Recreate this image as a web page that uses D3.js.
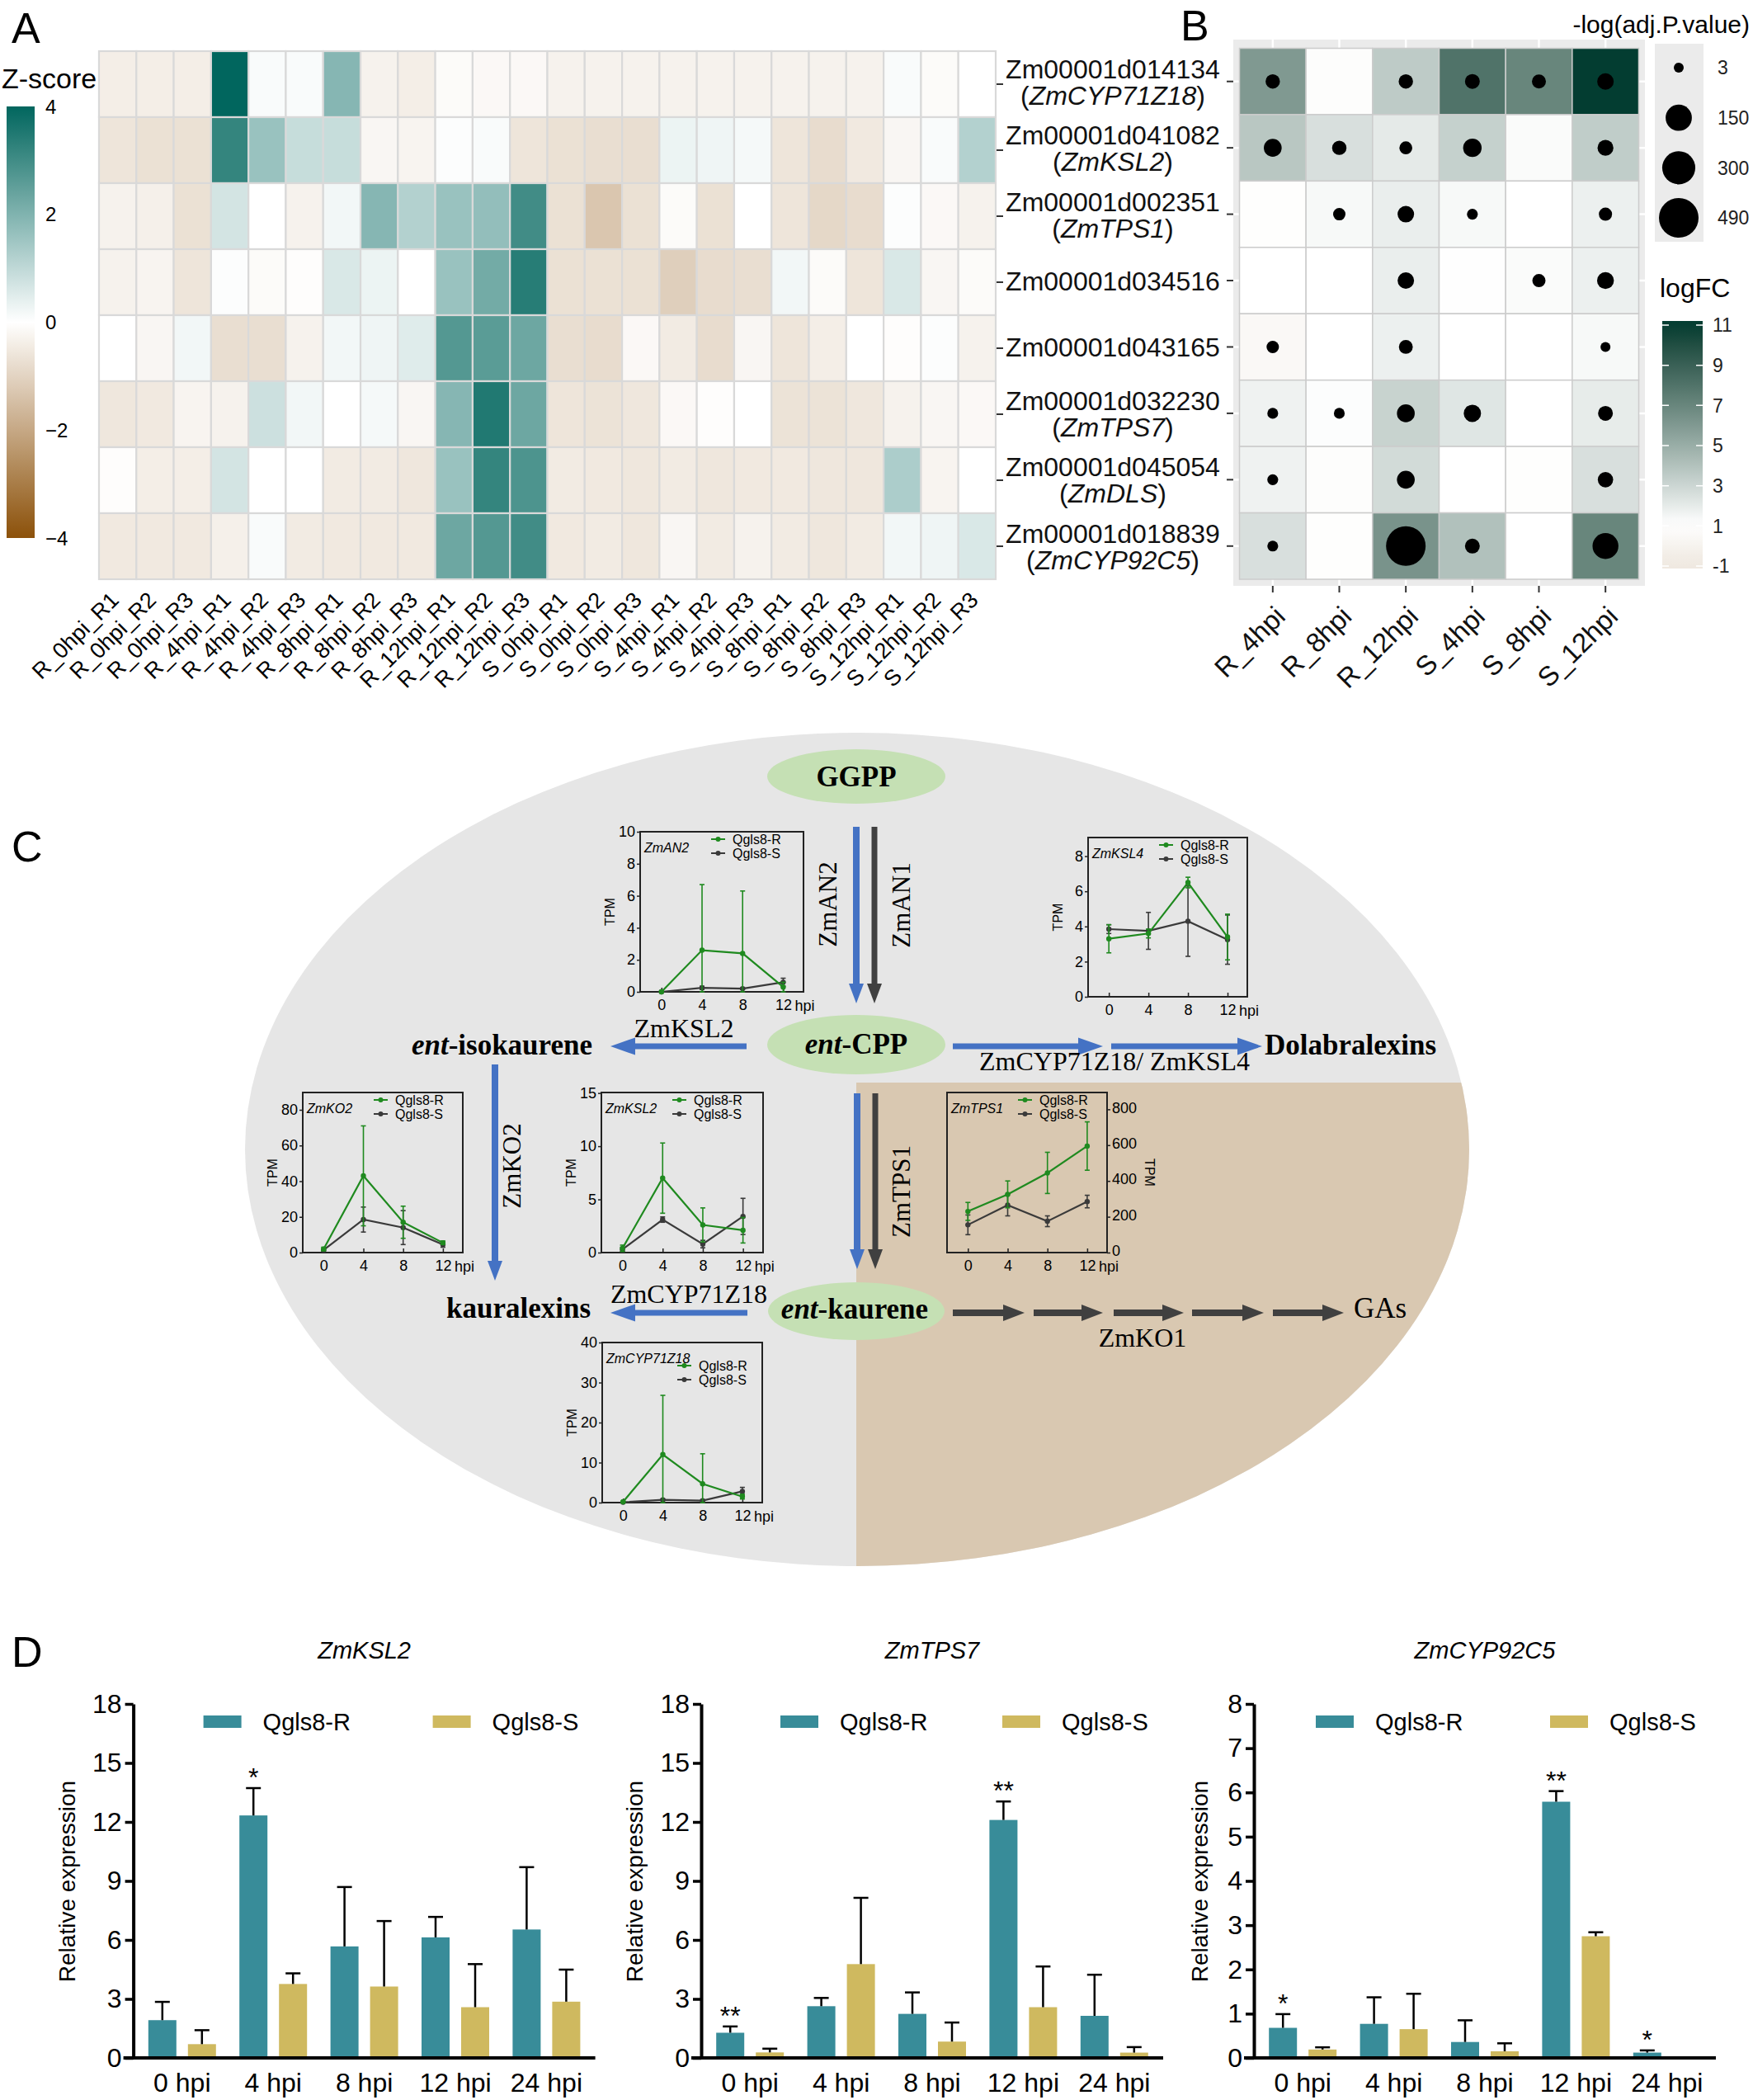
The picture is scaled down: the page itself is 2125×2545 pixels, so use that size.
<!DOCTYPE html>
<html>
<head>
<meta charset="utf-8">
<title>Diterpenoid pathway genes</title>
<script src="https://cdn.jsdelivr.net/npm/d3@7"></script>
<style>
body { margin: 0; background: #fff; }
</style>
</head>
<body>
<script>
// ---------- data ----------

// A: z-score heatmap
const heatSamples = ["R_0hpi_R1","R_0hpi_R2","R_0hpi_R3","R_4hpi_R1","R_4hpi_R2","R_4hpi_R3",
  "R_8hpi_R1","R_8hpi_R2","R_8hpi_R3","R_12hpi_R1","R_12hpi_R2","R_12hpi_R3",
  "S_0hpi_R1","S_0hpi_R2","S_0hpi_R3","S_4hpi_R1","S_4hpi_R2","S_4hpi_R3",
  "S_8hpi_R1","S_8hpi_R2","S_8hpi_R3","S_12hpi_R1","S_12hpi_R2","S_12hpi_R3"];
const geneIds = ["Zm00001d014134","Zm00001d041082","Zm00001d002351","Zm00001d034516",
  "Zm00001d043165","Zm00001d032230","Zm00001d045054","Zm00001d018839"];
const geneNames = ["ZmCYP71Z18","ZmKSL2","ZmTPS1","","","ZmTPS7","ZmDLS","ZmCYP92C5"];
const zScores = [
  [-0.4,-0.4,-0.4, 4.0,0.1,0.1, 1.9,-0.3,-0.4, -0.1,-0.15,-0.15, -0.3,-0.3,-0.3, -0.3,-0.3,-0.3, -0.3,-0.3,-0.3, 0.1,-0.1,0],
  [-0.6,-0.7,-0.7, 3.2,1.6,0.9, 0.9,-0.2,-0.25, 0.05,0.1,-0.6, -0.7,-0.75,-0.75, 0.3,0.25,0.15, -0.6,-0.8,-0.5, -0.2,0.1,1.2],
  [-0.3,-0.35,-0.7, 0.7,0,-0.3, 0.2,1.9,1.2, 1.6,1.7,3.0, -0.7,-1.3,-0.7, -0.1,-0.7,0, -0.6,-0.9,-0.8, 0.05,-0.15,-0.3],
  [-0.3,-0.25,-0.6, 0.05,-0.1,-0.05, 0.6,0.3,0, 1.6,2.2,3.4, -0.7,-0.7,-0.7, -1.1,-0.8,-0.75, 0.2,-0.1,-0.6, 0.6,-0.2,-0.1],
  [0,-0.2,0.2, -0.75,-0.75,-0.3, 0.2,0.25,0.5, 2.7,2.6,2.3, -0.75,-0.8,-0.15, -0.45,-0.8,-0.2, -0.6,-0.4,0, -0.05,0.05,-0.3],
  [-0.55,-0.5,-0.25, -0.3,0.8,0.2, 0,0.15,-0.2, 1.9,3.5,2.3, -0.6,-0.65,-0.55, -0.15,-0.05,0, -0.65,-0.65,-0.55, -0.3,-0.2,-0.15],
  [-0.05,-0.4,-0.4, 0.7,0,0, -0.45,-0.45,-0.55, 1.6,3.2,2.8, -0.45,-0.5,-0.55, -0.45,-0.55,-0.5, -0.5,-0.55,-0.55, 1.3,-0.25,0],
  [-0.5,-0.5,-0.5, -0.35,0.1,-0.45, -0.5,-0.5,-0.5, 2.3,2.7,3.0, -0.5,-0.45,-0.55, -0.2,-0.45,-0.3, -0.45,-0.55,-0.45, 0.2,0.25,0.6]
];
const zTicks = [4, 2, 0, -2, -4];

// B: logFC tiles + -log(adj.P) dots (null = no dot)
const dotTimes = ["R_4hpi","R_8hpi","R_12hpi","S_4hpi","S_8hpi","S_12hpi"];
const logFC = [
  [6, 0.8, 3.5, 8, 7, 11],
  [3.7, 2.5, 2, 3.2, 1.2, 3.4],
  [0.9, 1.3, 1.8, 1.3, 1, 1.7],
  [1, 1, 1.8, 1.05, 1.2, 1.7],
  [0.4, 1, 1.7, 1, 1, 1.3],
  [1.6, 1.1, 3.1, 2.2, 1, 1.9],
  [1.6, 0.8, 2.7, 1, 0.9, 2.5],
  [2.5, 0.9, 6.3, 4, 1, 7]
];
const negLogP = [
  [14, null, 14, 16.5, 12.4, 27],
  [37.6, 14, 7.9, 43.6, null, 22.5],
  [null, 6.4, 27, 3.5, null, 9],
  [null, null, 27, null, 9, 29.5],
  [6.4, null, 11.7, null, null, 3],
  [3.5, 3.5, 37.6, 33.4, null, 16.5],
  [3.5, null, 37.6, null, null, 19.4],
  [3.5, null, 490, 16.5, null, 144]
];
const sizeBreaks = [3, 150, 300, 490];
const fcTicks = [11, 9, 7, 5, 3, 1, -1];

// C: TPM insets
const tpmTimes = [0, 4, 8, 12];
const tpmGenes = ["ZmAN2","ZmKSL4","ZmKO2","ZmKSL2","ZmTPS1","ZmCYP71Z18"];
const tpmR   = [[0,2.6,2.4,0.3],[3.3,3.6,6.5,3.4],[2,43,17,5.5],[0.4,7,2.6,2.1],[230,325,445,595],[0.2,12,4.7,1.5]];
const tpmRsd = [[0.05,4.1,3.9,0.3],[0.8,0.25,0.3,1.3],[1,28,9,1],[0.3,3.3,1.6,1.2],[50,75,115,135],[0.1,14.8,7.5,0.6]];
const tpmS   = [[0,0.25,0.2,0.6],[3.85,3.75,4.3,3.25],[1.5,18.5,14,4.5],[0.3,3.1,0.8,3.4],[155,265,175,285],[0.1,0.7,0.5,2.8]];
const tpmSsd = [[0.02,0.1,0.05,0.25],[0.25,1.05,2.0,1.4],[0.5,7,9.5,1.5],[0.2,0.25,0.35,1.7],[55,60,30,35],[0.05,0.2,0.2,1]];
const tpmYmax  = [10, 9.06, 89.7, 15.05, 894, 40];
const tpmTicks = [[0,2,4,6,8,10],[0,2,4,6,8],[0,20,40,60,80],[0,5,10,15],[0,200,400,600,800],[0,10,20,30,40]];

// D: qPCR bars
const qTimes = ["0 hpi","4 hpi","8 hpi","12 hpi","24 hpi"];
const kslR = [1.92, 12.33, 5.67, 6.13, 6.53],  kslRsd = [0.93, 1.39, 3.02, 1.04, 3.17];
const kslS = [0.7, 3.76, 3.63, 2.58, 2.86],    kslSsd = [0.71, 0.54, 3.33, 2.19, 1.63];
const kslSig = ["", "*", "", "", ""];
const tps7R = [1.28, 2.63, 2.24, 12.1, 2.14],  tps7Rsd = [0.32, 0.42, 1.09, 0.94, 2.09];
const tps7S = [0.28, 4.77, 0.83, 2.58, 0.27],  tps7Ssd = [0.19, 3.37, 0.97, 2.07, 0.28];
const tps7Sig = ["**", "", "", "**", ""];
const cypR = [0.68, 0.77, 0.36, 5.79, 0.12],   cypRsd = [0.31, 0.6, 0.49, 0.24, 0.05];
const cypS = [0.19, 0.65, 0.15, 2.75, 0.03],   cypSsd = [0.05, 0.8, 0.18, 0.09, 0];
const cypSig = ["*", "", "", "**", "*"];

// ---------- drawing ----------
const sans = "'Liberation Sans', Arial, Helvetica, sans-serif";
const serif = "'Liberation Serif', 'Times New Roman', serif";

const svg = d3.select("body").append("svg")
    .attr("width", 2125).attr("height", 2545)
    .attr("font-family", sans);
svg.append("rect").attr("width", 2125).attr("height", 2545).attr("fill", "#fff");
const defs = svg.append("defs");

// panel letters
[["A", 14, 52], ["B", 1431, 49], ["C", 14, 1044], ["D", 14, 2020]].forEach(function(p) {
  svg.append("text").attr("x", p[1]).attr("y", p[2]).attr("font-size", 52).text(p[0]);
});

// ===== A =====
const heatX = d3.scaleBand().domain(heatSamples).range([120, 1207]);
const heatY = d3.scaleBand().domain(geneIds).range([62, 702]);
const zColor = d3.scaleLinear().domain([-4, 0, 4]).range(["#8c510a", "#ffffff", "#01665e"]).clamp(true);

const heatCells = [];
zScores.forEach(function(row, i) {
  row.forEach(function(v, j) { heatCells.push({ gene: geneIds[i], sample: heatSamples[j], v: v }); });
});
svg.append("g").selectAll("rect")
  .data(heatCells)
  .enter().append("rect")
    .attr("x", d => heatX(d.sample))
    .attr("y", d => heatY(d.gene))
    .attr("width", heatX.bandwidth())
    .attr("height", heatY.bandwidth())
    .attr("fill", d => zColor(d.v))
    .attr("stroke", "#d9d9d9")
    .attr("stroke-width", 2.2);

// column labels, rotated
svg.append("g").selectAll("text")
  .data(heatSamples)
  .enter().append("text")
    .attr("transform", d => "translate(" + (heatX(d) + heatX.bandwidth() / 2 + 3) + ",729) rotate(-45)")
    .attr("text-anchor", "end")
    .attr("font-size", 27)
    .text(d => d);

// z-score legend
const zGrad = defs.append("linearGradient").attr("id", "zgrad").attr("x1", 0).attr("y1", 0).attr("x2", 0).attr("y2", 1);
d3.range(0, 1.0001, 0.05).forEach(function(t) {
  zGrad.append("stop").attr("offset", t).attr("stop-color", zColor(4 - 8 * t));
});
const zLeg = d3.scaleLinear().domain([4, -4]).range([129, 652]);
svg.append("text").attr("x", 2).attr("y", 107).attr("font-size", 34).text("Z-score");
svg.append("rect").attr("x", 8).attr("y", zLeg(4)).attr("width", 34).attr("height", zLeg(-4) - zLeg(4))
  .attr("fill", "url(#zgrad)");
svg.append("g").selectAll("text")
  .data(zTicks)
  .enter().append("text")
    .attr("x", 55)
    .attr("y", d => zLeg(d))
    .attr("dy", "0.36em")
    .attr("font-size", 24)
    .text(d => d < 0 ? "\u2212" + Math.abs(d) : d);

// gene labels between A and B
const dotY = d3.scaleBand().domain(geneIds).range([58.5, 702]);
const labelG = svg.append("g").attr("font-size", 32).attr("fill", "#111");
geneIds.forEach(function(id, i) {
  const cy = dotY(id) + dotY.bandwidth() / 2;
  if (geneNames[i]) {
    labelG.append("text").attr("x", 1349).attr("y", cy - 4).attr("text-anchor", "middle").text(id);
    const t2 = labelG.append("text").attr("x", 1349).attr("y", cy + 28).attr("text-anchor", "middle");
    t2.append("tspan").text("(");
    t2.append("tspan").attr("font-style", "italic").text(geneNames[i]);
    t2.append("tspan").text(")");
  } else {
    labelG.append("text").attr("x", 1349).attr("y", cy + 12).attr("text-anchor", "middle").text(id);
  }
});
// small ticks: heatmap rows (left) and dot plot rows (right)
svg.append("g").selectAll("line")
  .data(geneIds)
  .enter().append("line")
    .attr("x1", 1208).attr("x2", 1216)
    .attr("y1", d => heatY(d) + heatY.bandwidth() / 2)
    .attr("y2", d => heatY(d) + heatY.bandwidth() / 2)
    .attr("stroke", "#333").attr("stroke-width", 2);

// ===== B =====
const dotX = d3.scaleBand().domain(dotTimes).range([1502.5, 1986.5]);
const fcColor = d3.scaleLinear().domain([-1, 1, 11]).range(["#efe8e0", "#ffffff", "#033d31"])
    .interpolate(d3.interpolateLab).clamp(true);
const rScale = d3.scaleLinear().domain([0, 1]).range([6, 24]);
const dotR = v => rScale(Math.sqrt((v - 3) / (490 - 3)));

svg.append("rect").attr("x", 1495).attr("y", 48).attr("width", 499).attr("height", 662).attr("fill", "#ebebeb");
svg.append("g").selectAll("line.vg")
  .data(dotTimes)
  .enter().append("line")
    .attr("x1", d => dotX(d) + dotX.bandwidth() / 2).attr("x2", d => dotX(d) + dotX.bandwidth() / 2)
    .attr("y1", 48).attr("y2", 710)
    .attr("stroke", "#fff").attr("stroke-width", 2.5);
svg.append("g").selectAll("line.hg")
  .data(geneIds)
  .enter().append("line")
    .attr("y1", d => dotY(d) + dotY.bandwidth() / 2).attr("y2", d => dotY(d) + dotY.bandwidth() / 2)
    .attr("x1", 1495).attr("x2", 1994)
    .attr("stroke", "#fff").attr("stroke-width", 2.5);

const dotCells = [];
logFC.forEach(function(row, i) {
  row.forEach(function(v, j) {
    dotCells.push({ gene: geneIds[i], time: dotTimes[j], fc: v, p: negLogP[i][j] });
  });
});
svg.append("g").selectAll("rect")
  .data(dotCells)
  .enter().append("rect")
    .attr("x", d => dotX(d.time))
    .attr("y", d => dotY(d.gene))
    .attr("width", dotX.bandwidth())
    .attr("height", dotY.bandwidth())
    .attr("fill", d => fcColor(d.fc))
    .attr("stroke", "#cccccc")
    .attr("stroke-width", 1.5);
svg.append("g").selectAll("circle")
  .data(dotCells.filter(d => d.p !== null))
  .enter().append("circle")
    .attr("cx", d => dotX(d.time) + dotX.bandwidth() / 2)
    .attr("cy", d => dotY(d.gene) + dotY.bandwidth() / 2)
    .attr("r", d => dotR(d.p))
    .attr("fill", "#000");

// B axes ticks
svg.append("g").selectAll("line")
  .data(geneIds)
  .enter().append("line")
    .attr("x1", 1487).attr("x2", 1495)
    .attr("y1", d => dotY(d) + dotY.bandwidth() / 2)
    .attr("y2", d => dotY(d) + dotY.bandwidth() / 2)
    .attr("stroke", "#333").attr("stroke-width", 2);
svg.append("g").selectAll("line")
  .data(dotTimes)
  .enter().append("line")
    .attr("x1", d => dotX(d) + dotX.bandwidth() / 2).attr("x2", d => dotX(d) + dotX.bandwidth() / 2)
    .attr("y1", 710).attr("y2", 718)
    .attr("stroke", "#333").attr("stroke-width", 2);
svg.append("g").selectAll("text")
  .data(dotTimes)
  .enter().append("text")
    .attr("transform", d => "translate(" + (dotX(d) + dotX.bandwidth() / 2 + 17) + ",749) rotate(-45)")
    .attr("text-anchor", "end")
    .attr("font-size", 33)
    .attr("fill", "#111")
    .text(d => d);

// size legend
svg.append("text").attr("x", 2121).attr("y", 40).attr("text-anchor", "end").attr("font-size", 30).text("-log(adj.P.value)");
svg.append("rect").attr("x", 2006).attr("y", 53).attr("width", 59).attr("height", 240).attr("fill", "#ebebeb");
const sizeY = d3.scalePoint().domain(sizeBreaks).range([82, 264]);
svg.append("g").selectAll("circle")
  .data(sizeBreaks)
  .enter().append("circle")
    .attr("cx", 2035).attr("cy", d => sizeY(d)).attr("r", d => dotR(d)).attr("fill", "#000");
svg.append("g").selectAll("text")
  .data(sizeBreaks)
  .enter().append("text")
    .attr("x", 2082).attr("y", d => sizeY(d)).attr("dy", "0.36em")
    .attr("font-size", 23).attr("fill", "#222")
    .text(d => d);

// logFC colour bar
svg.append("text").attr("x", 2012).attr("y", 360).attr("font-size", 32).text("logFC");
const fcGrad = defs.append("linearGradient").attr("id", "fcgrad").attr("x1", 0).attr("y1", 0).attr("x2", 0).attr("y2", 1);
d3.range(0, 1.0001, 0.05).forEach(function(t) {
  fcGrad.append("stop").attr("offset", t).attr("stop-color", fcColor(11.2 - 12.4 * t));
});
const fcLeg = d3.scaleLinear().domain([11, -1]).range([394, 686]);
svg.append("rect").attr("x", 2015).attr("y", 389).attr("width", 49).attr("height", 300).attr("fill", "url(#fcgrad)");
svg.append("g").selectAll("path")
  .data(fcTicks)
  .enter().append("path")
    .attr("d", d => "M2015," + fcLeg(d) + "h8M2064," + fcLeg(d) + "h-8")
    .attr("stroke", "#fff").attr("stroke-width", 1.5);
svg.append("g").selectAll("text")
  .data(fcTicks)
  .enter().append("text")
    .attr("x", 2076).attr("y", d => fcLeg(d)).attr("dy", "0.36em")
    .attr("font-size", 23).attr("fill", "#222")
    .text(d => d);

// ===== C: pathway =====
const cGray = "#e6e6e6", cTan = "#d9c8b1", nodeGreen = "#c5e0b4";
const blue = "#4472c4", darkArrow = "#404040";
svg.append("ellipse").attr("cx", 1039).attr("cy", 1393).attr("rx", 742).attr("ry", 505).attr("fill", cGray);
defs.append("clipPath").attr("id", "ellClip")
  .append("ellipse").attr("cx", 1039).attr("cy", 1393).attr("rx", 742).attr("ry", 505);
svg.append("rect").attr("x", 1038).attr("y", 1312).attr("width", 900).attr("height", 700)
  .attr("fill", cTan).attr("clip-path", "url(#ellClip)");

function arrow(x1, y1, x2, y2, color, w, headW, headL) {
  const len = Math.hypot(x2 - x1, y2 - y1), ux = (x2 - x1) / len, uy = (y2 - y1) / len;
  const bx = x2 - ux * headL, by = y2 - uy * headL;
  svg.append("line").attr("x1", x1).attr("y1", y1).attr("x2", bx + ux).attr("y2", by + uy)
    .attr("stroke", color).attr("stroke-width", w);
  svg.append("path")
    .attr("d", "M" + x2 + "," + y2 + "L" + (bx - uy * headW / 2) + "," + (by + ux * headW / 2) +
               "L" + (bx + uy * headW / 2) + "," + (by - ux * headW / 2) + "Z")
    .attr("fill", color);
}
arrow(1038, 1002, 1038, 1216, blue, 8, 18, 24);
arrow(1060, 1002, 1060, 1216, darkArrow, 7, 18, 24);
arrow(905, 1268, 740, 1268, blue, 7, 21, 30);
arrow(1155, 1268, 1337, 1268, blue, 7, 21, 30);
arrow(1347, 1268, 1530, 1268, blue, 7, 21, 30);
arrow(600, 1290, 600, 1552, blue, 8, 18, 24);
arrow(1039, 1325, 1039, 1538, blue, 8, 18, 24);
arrow(1061, 1325, 1061, 1538, darkArrow, 7, 18, 24);
arrow(906, 1591, 740, 1591, blue, 7, 21, 30);
[[1155, 1242], [1253, 1337], [1350, 1435], [1445, 1532], [1543, 1629]].forEach(function(a) {
  arrow(a[0], 1591, a[1], 1591, darkArrow, 8, 20, 26);
});

// nodes
[[1038, 941, 108, 33], [1038, 1266, 108, 36], [1038, 1589, 107, 35]].forEach(function(n) {
  svg.append("ellipse").attr("cx", n[0]).attr("cy", n[1]).attr("rx", n[2]).attr("ry", n[3]).attr("fill", nodeGreen);
});
function compound(x, y, anchor, ent, rest) {
  const t = svg.append("text").attr("x", x).attr("y", y).attr("text-anchor", anchor)
    .attr("font-family", serif).attr("font-weight", "bold").attr("font-size", 35);
  if (ent) t.append("tspan").attr("font-style", "italic").text("ent");
  t.append("tspan").text(rest);
}
compound(1038, 953, "middle", false, "GGPP");
compound(1038, 1277, "middle", true, "-CPP");
compound(1036, 1598, "middle", true, "-kaurene");
compound(718, 1278, "end", true, "-isokaurene");
compound(1533, 1278, "start", false, "Dolabralexins");
compound(541, 1597, "start", false, "kauralexins");
svg.append("text").attr("x", 1641).attr("y", 1597).attr("font-family", serif).attr("font-size", 35).text("GAs");

// enzyme labels
[["ZmKSL2", 829, 1257], ["ZmCYP71Z18/ ZmKSL4", 1351, 1297], ["ZmCYP71Z18", 835, 1579], ["ZmKO1", 1385, 1632]]
  .forEach(function(e) {
    svg.append("text").attr("x", e[1]).attr("y", e[2]).attr("text-anchor", "middle")
      .attr("font-family", serif).attr("font-size", 32).text(e[0]);
  });
[["ZmAN2", 1003, 1096], ["ZmAN1", 1092, 1097], ["ZmKO2", 620, 1413], ["ZmTPS1", 1092, 1444]]
  .forEach(function(e) {
    svg.append("text").attr("transform", "translate(" + e[1] + "," + e[2] + ") rotate(-90)")
      .attr("text-anchor", "middle").attr("dominant-baseline", "central")
      .attr("font-family", serif).attr("font-size", 31).text(e[0]);
  });

// TPM insets
const insetBox = [[776, 1008, 974, 1202], [1319, 1015, 1512, 1208], [367, 1324, 561, 1518],
                  [729, 1324, 925, 1518], [1148, 1324, 1342, 1518], [730, 1627, 924, 1821]];
const insetLegend = [[86, 9], [86, 9], [86, 9], [86, 9], [86, 9], [91, 28]];
const lineGreen = "#1f8a1f", lineDark = "#3a3a3a";

tpmGenes.forEach(function(gene, k) {
  const b = insetBox[k];
  const onRight = k === 4;
  const x = d3.scaleLinear().domain([-2.1, 14]).range([b[0], b[2]]);
  const y = d3.scaleLinear().domain([0, tpmYmax[k]]).range([b[3], b[1]]);
  const g = svg.append("g");

  const yAxis = (onRight ? d3.axisRight(y) : d3.axisLeft(y)).tickValues(tpmTicks[k]).tickSize(4).tickPadding(2);
  g.append("g").attr("transform", "translate(" + (onRight ? b[2] : b[0]) + ",0)")
    .call(yAxis)
    .attr("font-family", sans).attr("font-size", 18)
    .call(a => a.select(".domain").remove())
    .call(a => a.selectAll("line").attr("stroke", "#222").attr("stroke-width", 1.5))
    .call(a => a.selectAll("text").attr("dy", onRight ? "0.2em" : "0.32em"));
  g.append("g").attr("transform", "translate(0," + b[3] + ")")
    .call(d3.axisBottom(x).tickValues(tpmTimes).tickSize(-5).tickPadding(9))
    .attr("font-family", sans).attr("font-size", 18)
    .call(a => a.select(".domain").remove())
    .call(a => a.selectAll("line").attr("stroke", "#222").attr("stroke-width", 1.5));
  g.append("text").attr("x", x(12) + 14).attr("y", b[3] + 23).attr("font-size", 18).text("hpi");
  g.append("rect").attr("x", b[0]).attr("y", b[1]).attr("width", b[2] - b[0]).attr("height", b[3] - b[1])
    .attr("fill", "none").attr("stroke", "#222").attr("stroke-width", 2);

  const tpmLabel = g.append("text").attr("text-anchor", "middle").attr("font-size", 16).text("TPM");
  if (onRight) tpmLabel.attr("transform", "translate(" + (b[2] + 46) + "," + ((b[1] + b[3]) / 2) + ") rotate(90)");
  else tpmLabel.attr("transform", "translate(" + (b[0] - 31) + "," + ((b[1] + b[3]) / 2) + ") rotate(-90)");

  const series = [[tpmS[k], tpmSsd[k], lineDark], [tpmR[k], tpmRsd[k], lineGreen]];
  const line = d3.line().x((d, i) => x(tpmTimes[i])).y(d => y(d));
  series.forEach(function(s) {
    const vals = s[0], sd = s[1], col = s[2];
    const eb = g.append("g").attr("stroke", col).attr("stroke-width", 1.6);
    vals.forEach(function(v, i) {
      const cx = x(tpmTimes[i]);
      const lo = y(Math.max(0, v - sd[i])), hi = y(v + sd[i]);
      eb.append("line").attr("x1", cx).attr("x2", cx).attr("y1", lo).attr("y2", hi);
      eb.append("line").attr("x1", cx - 3).attr("x2", cx + 3).attr("y1", lo).attr("y2", lo);
      eb.append("line").attr("x1", cx - 3).attr("x2", cx + 3).attr("y1", hi).attr("y2", hi);
    });
    g.append("path").attr("d", line(vals)).attr("fill", "none").attr("stroke", col).attr("stroke-width", 2.2);
    g.append("g").selectAll("circle")
      .data(vals)
      .enter().append("circle")
        .attr("cx", (d, i) => x(tpmTimes[i])).attr("cy", d => y(d)).attr("r", 3.2).attr("fill", col);
  });

  g.append("text").attr("x", b[0] + 5).attr("y", b[1] + 25).attr("font-size", 16).attr("font-style", "italic").text(gene);
  const lg = insetLegend[k];
  [["Qgls8-R", lineGreen], ["Qgls8-S", lineDark]].forEach(function(e, i) {
    const ly = b[1] + lg[1] + i * 17;
    g.append("line").attr("x1", b[0] + lg[0]).attr("x2", b[0] + lg[0] + 17).attr("y1", ly).attr("y2", ly)
      .attr("stroke", e[1]).attr("stroke-width", 2);
    g.append("circle").attr("cx", b[0] + lg[0] + 8.5).attr("cy", ly).attr("r", 3).attr("fill", e[1]);
    g.append("text").attr("x", b[0] + lg[0] + 26).attr("y", ly).attr("dy", "0.36em").attr("font-size", 16).text(e[0]);
  });
});

// ===== D: qPCR =====
const barTeal = "#388c99", barTan = "#cfb95f";
const qCharts = [
  { title: "ZmKSL2", r: kslR, rsd: kslRsd, s: kslS, ssd: kslSsd, sig: kslSig, ymax: 18, step: 3 },
  { title: "ZmTPS7", r: tps7R, rsd: tps7Rsd, s: tps7S, ssd: tps7Ssd, sig: tps7Sig, ymax: 18, step: 3 },
  { title: "ZmCYP92C5", r: cypR, rsd: cypRsd, s: cypS, ssd: cypSsd, sig: cypSig, ymax: 8, step: 1 }
];
const qX0 = [161.6, 850, 1520];
const qLegendX = [[85, 363], [96, 365], [75, 359]];
const qYLabelDx = [-80, -81, -66];

qCharts.forEach(function(c, k) {
  const x0 = qX0[k];
  const xb = d3.scaleBand().domain(qTimes).range([x0 + 4, x0 + 556]);
  const y = d3.scaleLinear().domain([0, c.ymax]).range([2494, 2065]);
  const g = svg.append("g");
  const gc = t => xb(t) + xb.bandwidth() / 2;

  g.append("text").attr("x", x0 + 280).attr("y", 2010).attr("text-anchor", "middle")
    .attr("font-size", 29).attr("font-style", "italic").text(c.title);

  // bars + error bars
  [[c.r, c.rsd, barTeal, -41], [c.s, c.ssd, barTan, 7]].forEach(function(s) {
    g.append("g").selectAll("rect")
      .data(s[0])
      .enter().append("rect")
        .attr("x", (d, i) => gc(qTimes[i]) + s[3])
        .attr("y", d => y(d))
        .attr("width", 34)
        .attr("height", d => y(0) - y(d))
        .attr("fill", s[2]);
    const eb = g.append("g").attr("stroke", "#000").attr("stroke-width", 2.5);
    s[0].forEach(function(v, i) {
      if (!s[1][i]) return;
      const cx = gc(qTimes[i]) + s[3] + 17;
      eb.append("line").attr("x1", cx).attr("x2", cx).attr("y1", y(v)).attr("y2", y(v + s[1][i]));
      eb.append("line").attr("x1", cx - 9).attr("x2", cx + 9).attr("y1", y(v + s[1][i])).attr("y2", y(v + s[1][i]));
    });
  });
  // significance stars
  g.append("g").selectAll("text")
    .data(c.sig)
    .enter().append("text")
      .attr("x", (d, i) => gc(qTimes[i]) - 24)
      .attr("y", (d, i) => y(c.r[i] + c.rsd[i]) - 2)
      .attr("text-anchor", "middle")
      .attr("font-size", 32)
      .text(d => d);

  // axes
  g.append("g").attr("transform", "translate(" + x0 + ",0)")
    .call(d3.axisLeft(y).tickValues(d3.range(0, c.ymax + 0.01, c.step)).tickSize(10).tickSizeOuter(0).tickPadding(4))
    .attr("font-family", sans).attr("font-size", 32)
    .call(a => a.select(".domain").attr("stroke", "#000").attr("stroke-width", 4))
    .call(a => a.selectAll(".tick line").attr("stroke", "#000").attr("stroke-width", 3.5));
  g.append("line").attr("x1", x0 - 12).attr("x2", x0 + 560).attr("y1", 2494).attr("y2", 2494)
    .attr("stroke", "#000").attr("stroke-width", 4);
  g.append("g").selectAll("text.xl")
    .data(qTimes)
    .enter().append("text")
      .attr("x", d => gc(d)).attr("y", 2535).attr("text-anchor", "middle").attr("font-size", 32)
      .text(d => d);
  g.append("text")
    .attr("transform", "translate(" + (x0 + qYLabelDx[k]) + ",2280) rotate(-90)")
    .attr("text-anchor", "middle").attr("dominant-baseline", "central")
    .attr("font-size", 28).text("Relative expression");

  // legend
  [["Qgls8-R", barTeal], ["Qgls8-S", barTan]].forEach(function(e, i) {
    const lx = x0 + qLegendX[k][i];
    g.append("rect").attr("x", lx).attr("y", 2079).attr("width", 46).attr("height", 15).attr("fill", e[1]);
    g.append("text").attr("x", lx + 72).attr("y", 2087).attr("dy", "0.36em").attr("font-size", 29).text(e[0]);
  });
});
</script>
</body>
</html>
